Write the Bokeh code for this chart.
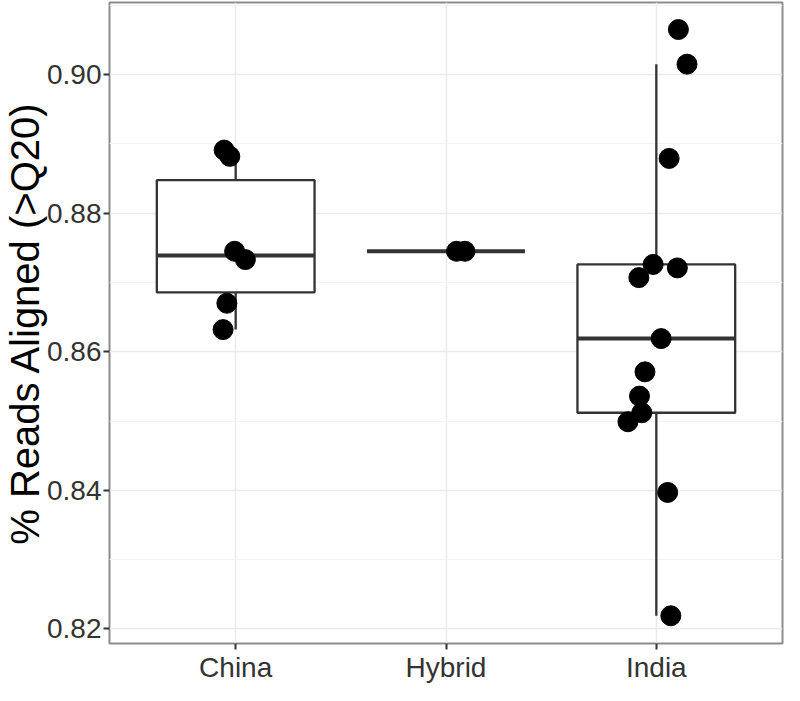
import numpy as np
from bokeh.plotting import figure
from bokeh.models import Range1d, FixedTicker, NumeralTickFormatter, ColumnDataSource
from bokeh.embed import file_html
from bokeh.resources import INLINE

# ---- data ----
categories = ["China", "Hybrid", "India"]
china_values = [0.8891, 0.8882, 0.8745, 0.8733, 0.8670, 0.8632]
china_jitter = [-0.055, -0.028, -0.005, 0.046, -0.042, -0.060]
hybrid_values = [0.8745, 0.8745]
hybrid_jitter = [0.05, 0.09]
india_values = [0.9065, 0.9015, 0.8879, 0.8726, 0.8721, 0.8707, 0.8619,
                0.8571, 0.8536, 0.8512, 0.8499, 0.8397, 0.8219]
india_jitter = [0.105, 0.146, 0.061, -0.015, 0.100, -0.083, 0.023,
                -0.054, -0.080, -0.069, -0.135, 0.054, 0.069]
y_ticks = [0.82, 0.84, 0.86, 0.88, 0.90]
y_minor = [0.81, 0.83, 0.85, 0.87, 0.89, 0.91]

groups = [china_values, hybrid_values, india_values]
jitters = [china_jitter, hybrid_jitter, india_jitter]

FONT = "Liberation Sans"
DARK = "#333333"

p = figure(width=784, height=685, output_backend="svg", toolbar_location=None,
           x_range=Range1d(0.4, 3.6), y_range=Range1d(0.8179, 0.9104),
           min_border_top=2, min_border_right=2, min_border_left=10, min_border_bottom=10)

# box stats computed from the data
q1s, meds, q3s, lows, highs, xs = [], [], [], [], [], []
for i, vals in enumerate(groups):
    v = np.array(vals)
    q1, med, q3 = np.percentile(v, [25, 50, 75])
    iqr = q3 - q1
    hi = v[v <= q3 + 1.5 * iqr].max()
    lo = v[v >= q1 - 1.5 * iqr].min()
    q1s.append(q1); meds.append(med); q3s.append(q3)
    lows.append(lo); highs.append(hi); xs.append(i + 1)

box = ColumnDataSource(dict(x=xs, left=[x - 0.375 for x in xs], right=[x + 0.375 for x in xs],
                            q1=q1s, med=meds, q3=q3s, lo=lows, hi=highs))

p.segment(x0="x", y0="q3", x1="x", y1="hi", source=box, line_color=DARK, line_width=2.3)
p.segment(x0="x", y0="q1", x1="x", y1="lo", source=box, line_color=DARK, line_width=2.3)
p.quad(left="left", right="right", bottom="q1", top="q3", source=box,
       fill_color="white", line_color=DARK, line_width=2.3)
p.segment(x0="left", y0="med", x1="right", y1="med", source=box, line_color=DARK, line_width=4)

px, py = [], []
for i, (vals, jit) in enumerate(zip(groups, jitters)):
    for v, j in zip(vals, jit):
        px.append(i + 1 + j); py.append(v)
p.scatter(px, py, size=20, fill_color="black", line_color="black")

# axes
p.xaxis.ticker = FixedTicker(ticks=[1, 2, 3], minor_ticks=[])
p.xaxis.major_label_overrides = {1: categories[0], 2: categories[1], 3: categories[2]}
p.yaxis.ticker = FixedTicker(ticks=y_ticks, minor_ticks=y_minor)
p.yaxis.formatter = NumeralTickFormatter(format="0.00")
p.yaxis.axis_label = "% Reads Aligned (>Q20)"
p.yaxis.axis_label_text_font = FONT
p.yaxis.axis_label_text_font_size = "40px"
p.yaxis.axis_label_text_font_style = "normal"
p.yaxis.axis_label_text_color = "black"
p.yaxis.axis_label_standoff = -3

for ax in (p.xaxis, p.yaxis):
    ax.axis_line_color = None
    ax.major_tick_in = 0
    ax.major_tick_out = 6
    ax.major_tick_line_color = DARK
    ax.major_tick_line_width = 2
    ax.minor_tick_in = 0
    ax.minor_tick_out = 0
    ax.major_label_text_font = FONT
    ax.major_label_text_font_size = "28px"
    ax.major_label_text_color = DARK
    ax.major_label_standoff = 2

p.xgrid.grid_line_color = "#ebebeb"
p.xgrid.grid_line_width = 1.5
p.ygrid.grid_line_color = "#ebebeb"
p.ygrid.grid_line_width = 1.5
p.ygrid.minor_grid_line_color = "#f4f4f4"
p.ygrid.minor_grid_line_width = 1

p.outline_line_color = "#8c8c8c"
p.outline_line_width = 2
p.background_fill_color = "white"
p.border_fill_color = "white"

open("out.html", "w").write(file_html(p, INLINE))
